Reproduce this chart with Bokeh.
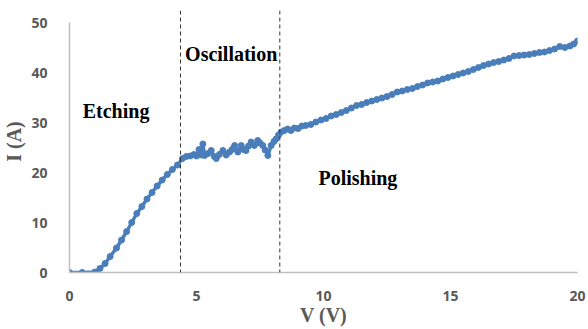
from bokeh.plotting import figure
from bokeh.models import Span, Label, FixedTicker, Range1d
from bokeh.embed import file_html
from bokeh.resources import INLINE

voltage = [0, 0.5, 1.0, 1.2, 1.4, 1.6, 1.85, 2.05, 2.25, 2.45, 2.65, 2.85, 3.05, 3.25, 3.45,
           3.65, 3.85, 4.05, 4.25, 4.45,
           4.6, 4.75, 4.9, 5.0, 5.1, 5.2, 5.25, 5.32, 5.45, 5.58, 5.7, 5.78, 5.9, 6.04, 6.17,
           6.3, 6.4, 6.5, 6.63, 6.76, 6.85, 6.95, 7.05, 7.15, 7.28, 7.41, 7.5, 7.61, 7.7, 7.81,
           7.94, 8.05, 8.13, 8.23, 8.33, 8.46, 8.59, 8.72, 8.85,
           9.0, 9.15, 9.3, 9.5, 9.7, 9.9, 10.1, 10.3, 10.5, 10.7, 10.9, 11.1, 11.3, 11.5, 11.7,
           11.9, 12.1, 12.3, 12.5, 12.7, 12.9, 13.1, 13.3, 13.5, 13.7, 13.9, 14.1, 14.3, 14.5,
           14.7, 14.9, 15.1, 15.3, 15.5, 15.7, 15.9, 16.1, 16.3, 16.5, 16.7, 16.9, 17.1, 17.3,
           17.5, 17.7, 17.9, 18.1, 18.3, 18.5, 18.7, 18.9, 19.1, 19.3, 19.5, 19.7, 19.85, 20.0]
current = [0, 0, 0.1, 0.8, 1.8, 3.2, 4.9, 6.5, 8.2, 10.0, 11.8, 13.2, 14.7, 16.0, 17.3,
           18.5, 19.6, 20.6, 21.5, 22.8,
           23.2, 23.3, 23.6, 23.3, 24.6, 23.5, 25.7, 23.4, 23.8, 24.4, 23.2, 22.8, 23.6, 24.4, 23.5,
           24.1, 24.6, 25.4, 24.1, 25.4, 24.6, 24.4, 25.3, 26.1, 25.4, 26.4, 25.9, 25.4, 24.5, 23.4,
           25.4, 26.2, 26.7, 27.5, 28.1, 28.4, 28.7, 28.4, 28.9,
           28.8, 29.3, 29.4, 29.6, 30.1, 30.5, 30.8, 31.3, 31.6, 32.0, 32.4, 32.9, 33.4, 33.6, 34.0,
           34.3, 34.6, 34.9, 35.2, 35.6, 36.1, 36.3, 36.6, 36.8, 37.2, 37.5, 37.9, 38.1, 38.3,
           38.7, 39.0, 39.3, 39.6, 39.9, 40.2, 40.6, 41.0, 41.4, 41.7, 42.0, 42.2, 42.5, 42.8,
           43.3, 43.4, 43.5, 43.6, 43.8, 44.0, 44.1, 44.4, 44.7, 45.2, 45.0, 45.3, 45.7, 46.3]

x_ticks = [0, 5, 10, 15, 20]
y_ticks = [0, 10, 20, 30, 40, 50]
boundaries = [4.37, 8.28]
regions = ["Etching", "Oscillation", "Polishing"]
region_x = [0.52, 4.55, 9.8]
region_y = [32.4, 43.8, 19.0]

p = figure(width=588, height=329, output_backend="svg", toolbar_location=None,
           x_range=Range1d(0, 20), y_range=Range1d(0, 52.4),
           min_border_left=69, min_border_right=11, min_border_top=10, min_border_bottom=57)
p.outline_line_color = None
p.xgrid.grid_line_color = None
p.ygrid.grid_line_color = None
p.background_fill_color = "white"

p.xaxis.ticker = FixedTicker(ticks=x_ticks)
p.yaxis.ticker = FixedTicker(ticks=y_ticks)
p.yaxis.bounds = (0, 50)
for ax in (p.xaxis, p.yaxis):
    ax.axis_line_color = "#bfbfbf"
    ax.axis_line_width = 1.5
    ax.major_tick_line_color = None
    ax.minor_tick_line_color = None
    ax.major_label_text_font = "Open Sans"
    ax.major_label_text_font_style = "bold"
    ax.major_label_text_font_size = "14px"
    ax.major_label_text_color = "#595959"
    ax.axis_label_text_font = "Liberation Serif"
    ax.axis_label_text_font_style = "bold"
    ax.axis_label_text_font_size = "20px"
    ax.axis_label_text_color = "#595959"
p.xaxis.major_label_standoff = 12
p.yaxis.major_label_standoff = 16
p.xaxis.axis_label = "V (V)"
p.yaxis.axis_label = "I (A)"
p.xaxis.axis_label_standoff = 0
p.yaxis.axis_label_standoff = 3

for b in boundaries:
    p.add_layout(Span(location=b, dimension="height", line_color="#333333",
                      line_width=1, line_dash="4 3"))

p.line(voltage, current, line_color="#4a7ebb", line_width=3.5)
p.scatter(voltage, current, size=6, fill_color="#4a7ebb", line_color="#4a7ebb")

for t, x, y in zip(regions, region_x, region_y):
    p.add_layout(Label(x=x, y=y, text=t, text_font="Liberation Serif", text_font_style="bold",
                       text_font_size="20px", text_color="black", text_baseline="middle",
                       text_align="left"))

open("out.html", "w").write(file_html(p, INLINE))
